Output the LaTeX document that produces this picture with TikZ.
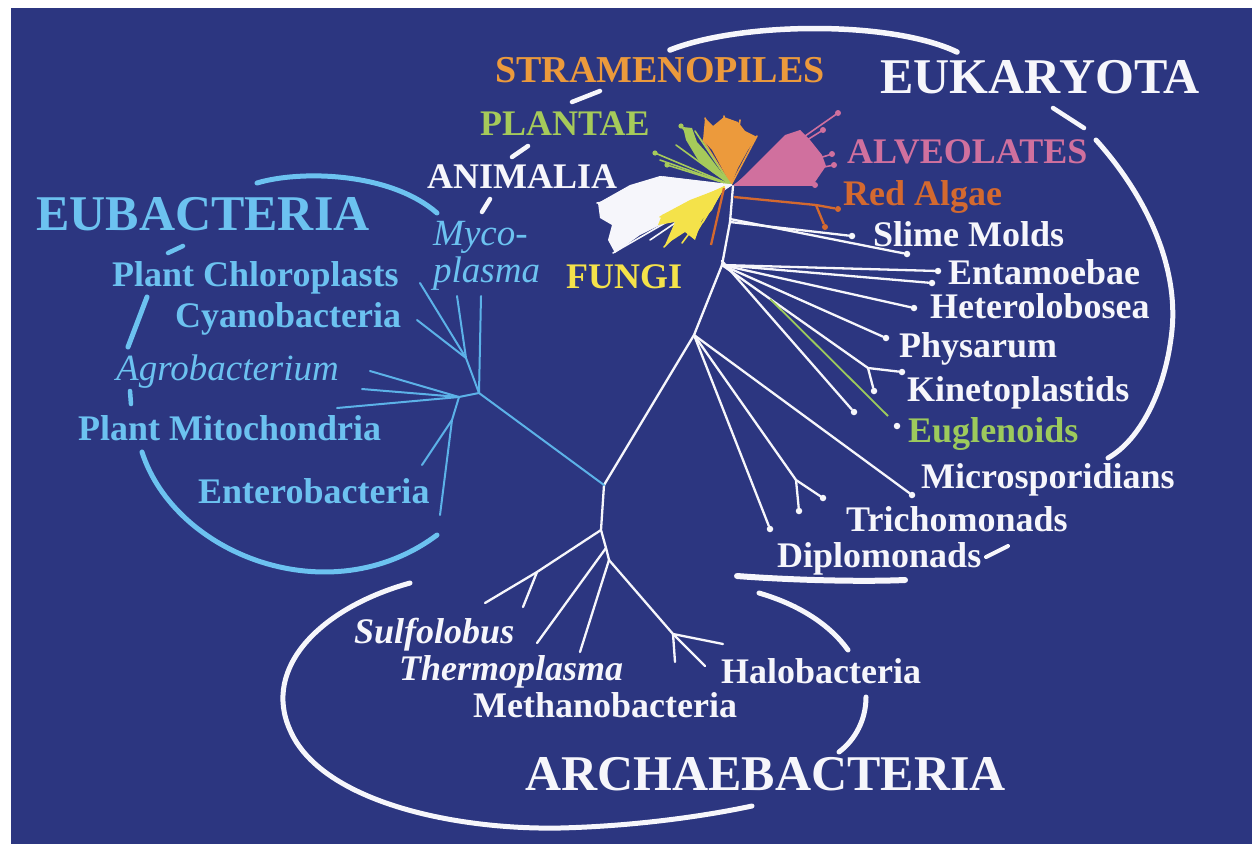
\documentclass[tikz,border=0pt]{standalone}
\usepackage{fontspec}
\usetikzlibrary{calc}
\setmainfont{Liberation Serif}
\definecolor{bgblue}{HTML}{2C3680}
\definecolor{treewhite}{HTML}{F6F6FB}
\definecolor{eublue}{HTML}{6CC2F0}
\definecolor{eubline}{HTML}{5CB2E8}
\definecolor{orangeS}{HTML}{EC9A3C}
\definecolor{greenP}{HTML}{A6CA5A}
\definecolor{pinkA}{HTML}{D0709E}
\definecolor{redalg}{HTML}{D4692F}
\definecolor{yellowF}{HTML}{F4E24A}
\definecolor{greenE}{HTML}{9DCA5C}
\begin{document}
\begin{tikzpicture}[x=1pt,y=-1pt,
  lab/.style={inner sep=0pt, anchor=base west, text=treewhite, font=\fontsize{36}{40}\selectfont\bfseries},
  big/.style={inner sep=0pt, anchor=base west, text=treewhite, font=\fontsize{50}{56}\selectfont\bfseries},
  itl/.style={inner sep=0pt, anchor=base west, text=eublue, font=\fontsize{37}{40}\selectfont\itshape},
  bitl/.style={inner sep=0pt, anchor=base west, text=treewhite, font=\fontsize{36}{40}\selectfont\bfseries\itshape},
  wl/.style={draw=treewhite, line width=2.3pt, line cap=round},
  bl/.style={draw=eubline, line width=2pt, line cap=round},
  tipdot/.style={circle, fill=treewhite, inner sep=0pt, minimum size=6.5pt},
  arcw/.style={draw=treewhite, line width=5pt, line cap=round},
  arcb/.style={draw=eublue, line width=5pt, line cap=round},
  fan/.style={line width=1.6pt, line cap=round},
]
\useasboundingbox (0,0) rectangle (1252,844);
% background
\fill[white] (0,0) rectangle (1252,844);
\fill[bgblue] (11,8) rectangle (1252,844);

% ---------------- enclosing arcs ----------------
% Eukaryota
\draw[arcw, line width=5.5pt] (670,50) .. controls (740,22) and (890,20) .. (957,52);
\draw[arcw, line width=4.5pt] (572,102) -- (600,91);
\draw[arcw, line width=4.5pt] (512,157) -- (528,146);
\draw[arcw, line width=4.5pt] (482,212) -- (490,199);
\draw[arcw, line width=4.5pt] (1053,108) -- (1084,128);
\draw[arcw] (1096,140) .. controls (1150,200) and (1178,270) .. (1172,330) .. controls (1166,390) and (1140,440) .. (1108,458);
\draw[arcw, line width=6pt] (737,576) .. controls (790,580) and (860,582) .. (905,580);
\draw[arcw, line width=4pt] (986,557) -- (1008,546);
% Archaebacteria
\draw[arcw] (410,583) .. controls (320,608) and (262,668) .. (290,730) .. controls (320,800) and (450,830) .. (560,828) .. controls (640,826) and (710,815) .. (752,806);
\draw[arcw] (759,593) .. controls (800,605) and (830,625) .. (848,650);
\draw[arcw] (866,697) .. controls (866,720) and (855,740) .. (839,752);
% Eubacteria
\draw[arcb] (257,183) .. controls (300,170) and (390,172) .. (437,213);
\draw[arcb, line width=4.5pt] (168,253) -- (183,246);
\draw[arcb] (147,297) -- (128,347);
\draw[arcb, line width=4.5pt] (130,391) -- (131,404);
\draw[arcb] (142,452) .. controls (175,555) and (330,615) .. (437,535);

% ---------------- tree coordinates ----------------
\coordinate (R) at (604,485);
% eukaryote trunk
\coordinate (E1) at (694,335);
\coordinate (E2) at (722,265);
\coordinate (E3) at (730,222);
\coordinate (E4) at (733,186);
% eukaryote tips
\node[tipdot] (sm1) at (852,236) {};
\node[tipdot] (sm2) at (907,254) {};
\node[tipdot] (en1) at (938,271) {};
\node[tipdot] (he1) at (932,283) {};
\node[tipdot] (he2) at (914,308) {};
\node[tipdot] (ph1) at (886,338) {};
\coordinate (KF) at (868,368);
\node[tipdot] (ki1) at (902,372) {};
\node[tipdot] (ki2) at (874,391) {};
\node[tipdot] (ki3) at (854,412) {};
\node[tipdot] (eu1) at (897,426) {};
\node[tipdot] (mi1) at (912,495) {};
\coordinate (TF) at (796,480);
\node[tipdot] (tr1) at (823,498) {};
\node[tipdot] (tr2) at (799,511) {};
\node[tipdot] (di1) at (770,529) {};
% red algae
\coordinate (RA0) at (734,197);
\coordinate (RF) at (816,205);
\node[circle, fill=redalg, inner sep=0pt, minimum size=6pt] (ra1) at (838,209) {};
\node[circle, fill=redalg, inner sep=0pt, minimum size=6pt] (ra2) at (825,227) {};
\coordinate (OR0) at (724,188);
\coordinate (OR1) at (711,245);
% crown centre
\coordinate (C0) at (731,185);
% archaebacteria
\coordinate (T1) at (601,530);
\coordinate (T2) at (606,548);
\coordinate (T3) at (609,560);
\coordinate (SF) at (537,572);
\coordinate (a1) at (485,603);
\coordinate (a2) at (523,607);
\coordinate (a3) at (537,643);
\coordinate (a4) at (580,652);
\coordinate (HF) at (673,634);
\coordinate (a5) at (723,644);
\coordinate (a6) at (705,666);
\coordinate (a7) at (675,662);
% eubacteria
\coordinate (BA) at (479,393);
\coordinate (BB) at (466,358);
\coordinate (BC) at (459,397);
\coordinate (BD) at (452,420);
\coordinate (b1) at (481,296);
\coordinate (b2) at (457,296);
\coordinate (b3) at (420,283);
\coordinate (b4) at (417,320);
\coordinate (b5) at (370,371);
\coordinate (b6) at (362,389);
\coordinate (b7) at (337,408);
\coordinate (b8) at (422,465);
\coordinate (b9) at (440,515);
\coordinate (G0) at ($(E2)!0.33!(KF)$);
\coordinate (G1) at (888,416);

% ---------------- crown fans ----------------
% Stramenopiles
\fill[orangeS] (C0) -- (712,150) -- (703,140) -- (705,118) -- (713,126) -- (724,117) -- (738,122) -- (745,131) -- (757,137) -- (748,150) -- (738,168) -- cycle;
\foreach \p in {(705,118),(724,116),(740,120),(757,136),(703,140)}
  \draw[orangeS, fan] (C0) -- \p;
% Plantae
\fill[greenP] (C0) -- (712,172) -- (698,160) -- (686,140) -- (683,127) -- (692,128) -- (697,142) -- (706,152) -- (718,168) -- cycle;
\foreach \p in {(655,153),(681,126),(695,131),(667,165),(676,145),(660,160)}
  \draw[greenP, fan] (C0) -- \p;
\foreach \p in {(655,153),(681,126),(667,165)}
  \fill[greenP] \p circle (2.6pt);
% Alveolates
\fill[pinkA] (735,185) -- (770,150) -- (785,135) -- (800,130) -- (810,140) -- (822,155) -- (826,166) -- (813,185) -- cycle;
\foreach \p in {(838,113),(823,130),(832,154),(834,165),(815,185),(800,131)}
  \draw[pinkA, fan] (735,185) -- \p;
\foreach \p in {(838,113),(823,130),(832,154),(834,165),(815,185)}
  \fill[pinkA] \p circle (3pt);
% Animalia
\fill[treewhite] (C0) -- (660,176) -- (630,185) -- (598,203) -- (600,218) -- (612,225) -- (608,240) -- (615,253) -- (640,235) -- (660,225) -- (700,200) -- cycle;
\foreach \p in {(597,203),(613,253),(663,177),(650,240),(620,195)}
  \draw[treewhite, fan] (C0) -- \p;
% Fungi
\fill[yellowF] (724,187) -- (690,200) -- (662,215) -- (658,225) -- (675,222) -- (665,245) -- (685,232) -- (695,240) -- (702,220) -- (712,210) -- cycle;
\foreach \p in {(660,217),(664,247),(682,243),(694,236),(703,222)}
  \draw[yellowF, fan] (724,187) -- \p;

% ---------------- eukaryote branches ----------------
\draw[wl] (R) -- (E1) -- (E2) -- (E3) -- (E4);
\draw[wl] (E3) -- (sm1);
\draw[wl] ([yshift=3pt]E3) -- (sm2);
\draw[wl] (E2) -- (en1);
\draw[wl] (E2) -- (he1);
\draw[wl] (E2) -- (he2);
\draw[wl] (E2) -- (ph1);
\draw[wl] (E2) -- (KF) -- (ki1);
\draw[wl] (KF) -- (ki2);
\draw[wl] ([yshift=4pt]E2) -- (ki3);
\draw[greenE, line width=1.8pt] (G0) -- (G1);
\draw[wl] (E1) -- (mi1);
\draw[wl] (E1) -- (TF) -- (tr1);
\draw[wl] (TF) -- (tr2);
\draw[wl] (E1) -- (di1);
% red algae
\draw[redalg, line width=2.3pt] (RA0) -- (RF) -- (ra1);
\draw[redalg, line width=2.3pt] (RF) -- (ra2);
\draw[redalg, line width=2.3pt] (OR0) -- (OR1);

% ---------------- archaebacteria branches ----------------
\draw[wl] (R) -- (T1) -- (T2) -- (T3);
\draw[wl] (T1) -- (SF) -- (a1);
\draw[wl] (SF) -- (a2);
\draw[wl] (T2) -- (a3);
\draw[wl] (T3) -- (a4);
\draw[wl] (T3) -- (HF) -- (a5);
\draw[wl] (HF) -- (a6);
\draw[wl] (HF) -- (a7);

% ---------------- eubacteria branches ----------------
\draw[bl] (R) -- (BA) -- (b1);
\draw[bl] (BA) -- (BB) -- (b2);
\draw[bl] (BB) -- (b3);
\draw[bl] (BB) -- (b4);
\draw[bl] (BA) -- (BC) -- (b5);
\draw[bl] (BC) -- (b6);
\draw[bl] (BC) -- (b7);
\draw[bl] (BC) -- (BD) -- (b8);
\draw[bl] (BD) -- (b9);

% ---------------- labels ----------------
\node[big] (tEuk) at (880,93) {EUKARYOTA};
\node[lab, text=orangeS, font=\fontsize{38}{40}\selectfont\bfseries] (tStr) at (495,82) {STRAMENOPILES};
\node[lab, text=greenP] (tPla) at (480,135) {PLANTAE};
\node[lab] (tAni) at (427,188) {ANIMALIA};
\node[lab, text=pinkA] (tAlv) at (847,163) {ALVEOLATES};
\node[lab, text=redalg] (tRed) at (843,205) {Red Algae};
\node[lab] (tSli) at (873,246) {Slime Molds};
\node[lab] (tEnt) at (948,284) {Entamoebae};
\node[lab] (tHet) at (930,318) {Heterolobosea};
\node[lab] (tPhy) at (899,357) {Physarum};
\node[lab] (tKin) at (907,401) {Kinetoplastids};
\node[lab, text=greenE] (tEug) at (908,442) {Euglenoids};
\node[lab] (tMic) at (921,488) {Microsporidians};
\node[lab] (tTri) at (846,531) {Trichomonads};
\node[lab] (tDip) at (777,567) {Diplomonads};
\node[lab, text=yellowF] (tFun) at (566,288) {FUNGI};

\node[big, text=eublue] (tEub) at (36,230) {EUBACTERIA};
\node[itl] (tMy1) at (433,245) {Myco-};
\node[itl] (tMy2) at (433,282) {plasma};
\node[lab, text=eublue] (tChl) at (112,286) {Plant Chloroplasts};
\node[lab, text=eublue] (tCya) at (175,327) {Cyanobacteria};
\node[itl] (tAgr) at (116,380) {Agrobacterium};
\node[lab, text=eublue] (tMit) at (78,440) {Plant Mitochondria};
\node[lab, text=eublue] (tEnb) at (198,503) {Enterobacteria};

\node[bitl] (tSul) at (354,643) {Sulfolobus};
\node[bitl] (tThe) at (399,680) {Thermoplasma};
\node[lab] (tMet) at (473,717) {Methanobacteria};
\node[lab] (tHal) at (721,683) {Halobacteria};
\node[big] (tArc) at (525,790) {ARCHAEBACTERIA};
\end{tikzpicture}
\end{document}
